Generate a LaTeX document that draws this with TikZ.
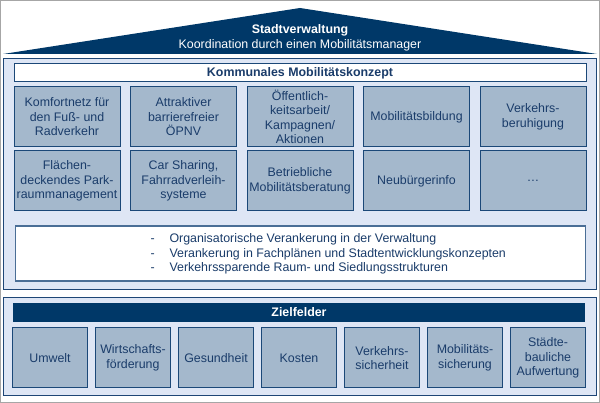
\documentclass[tikz,border=0pt]{standalone}
\usepackage{fontspec}
\setmainfont{Liberation Sans}
\usepackage{xcolor}
\usetikzlibrary{positioning}

\definecolor{navy}{HTML}{003868}
\definecolor{panelfill}{HTML}{DEE6F5}
\definecolor{panelline}{HTML}{1E4676}
\definecolor{boxfill}{HTML}{A4B8CC}
\definecolor{boxline}{HTML}{1B4878}
\definecolor{textblue}{HTML}{1A3C6A}
\definecolor{listline}{HTML}{4A6E96}

\tikzset{
  txt/.style={font=\fontsize{12.4}{14.5}\selectfont, text=textblue},
  panel/.style={rectangle, draw=panelline, fill=panelfill, line width=0.9pt},
  feld/.style={rectangle, draw=boxline, fill=boxfill, line width=1pt, txt,
               align=center, inner sep=1pt, minimum width=106pt, minimum height=60pt},
  ziel/.style={feld, minimum width=75pt},
  titel/.style={rectangle, draw=boxline, fill=white, line width=1pt, txt,
                font=\fontsize{12.4}{14.5}\selectfont\bfseries,
                minimum width=572pt, minimum height=18pt, inner sep=0pt},
  balken/.style={rectangle, fill=navy, text=white,
                 font=\fontsize{12.4}{14.5}\selectfont\bfseries,
                 minimum width=572pt, minimum height=19pt, inner sep=0pt}
}

\begin{document}
\begin{tikzpicture}[x=1pt, y=-1pt]
      %\draw [dotted] (0,0) grid (600,403);
      \useasboundingbox (0,0) rectangle (600,403);
      \draw [gray!70, line width=1pt] (0.5,0.5) rectangle (599.5,402.5);
      % Dach
      \fill [navy] (3,54) -- (300,8) -- (597,54) -- cycle;
      \node [txt, text=white, align=center, font=\fontsize{12.4}{15}\selectfont]
            (dach) at (300,38) {\textbf{Stadtverwaltung}\\Koordination durch einen Mobilitätsmanager};
      % Mobilitaetskonzept
      \node [panel, minimum width=593pt, minimum height=231pt] (oben) at (299.5,173.5) {};
      \node [titel]  (konzept) at (300, 73.0) {Kommunales Mobilitätskonzept};
      \node [feld]  (m1) at ( 67.0, 117.0) {Komfortnetz für\\den Fuß- und\\Radverkehr};
      \node [feld]  (m2) at (183.5, 117.0) {Attraktiver\\barrierefreier\\ÖPNV};
      \node [feld]  (m3) at (300.0, 117.0) {Öffentlich-\\keitsarbeit/\\Kampagnen/\\Aktionen};
      \node [feld]  (m4) at (416.5, 117.0) {Mobilitätsbildung};
      \node [feld]  (m5) at (533.0, 117.0) {Verkehrs-\\beruhigung};
      \node [feld]  (m6) at ( 67.0, 181.0) {Flächen-\\deckendes Park-\\raummanagement};
      \node [feld]  (m7) at (183.5, 181.0) {Car Sharing,\\Fahrradverleih-\\systeme};
      \node [feld]  (m8) at (300.0, 181.0) {Betriebliche\\Mobilitätsberatung};
      \node [feld]  (m9) at (416.5, 181.0) {Neubürgerinfo};
      \node [feld] (m10) at (533.0, 181.0) {\dots};
      \node [rectangle, draw=listline, fill=white, line width=1.3pt,
             minimum width=570pt, minimum height=55pt] (liste) at (300.5, 253.5) {};
      \node [txt, anchor=west, align=left] (punkte) at (147, 254)
            {\makebox[19pt][l]{-}Organisatorische Verankerung in der Verwaltung\\
             \makebox[19pt][l]{-}Verankerung in Fachplänen und Stadtentwicklungskonzepten\\
             \makebox[19pt][l]{-}Verkehrssparende Raum- und Siedlungsstrukturen};
      % Zielfelder
      \node [panel, minimum width=593pt, minimum height=98pt] (unten) at (299.5,346.0) {};
      \node [balken] (zielfelder) at (299, 312.5) {Zielfelder};
      \node [ziel]  (z1) at ( 50, 358) {Umwelt};
      \node [ziel]  (z2) at (133, 358) {Wirtschafts-\\förderung};
      \node [ziel]  (z3) at (216, 358) {Gesundheit};
      \node [ziel]  (z4) at (299, 358) {Kosten};
      \node [ziel]  (z5) at (382, 358) {Verkehrs-\\sicherheit};
      \node [ziel]  (z6) at (465, 358) {Mobilitäts-\\sicherung};
      \node [ziel]  (z7) at (548, 358) {Städte-\\bauliche\\Aufwertung};
\end{tikzpicture}
\end{document}
